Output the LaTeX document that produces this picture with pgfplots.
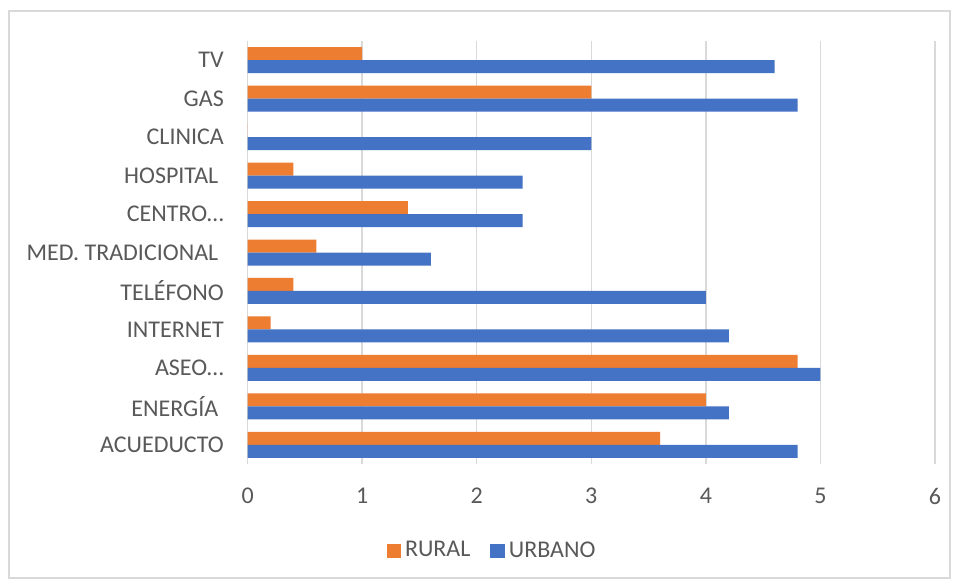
\documentclass[border=0pt]{standalone}
\usepackage{pgfplots}
\pgfplotsset{compat=1.18}
\usepackage{fontspec}
\setmainfont{Carlito}
\definecolor{cOrange}{HTML}{ED7D31}
\definecolor{cBlue}{HTML}{4472C4}
\definecolor{cText}{HTML}{595959}
\definecolor{cGrid}{HTML}{D9D9D9}
\newcommand{\tsp}{\kern0.23em}
\begin{document}
\begin{tikzpicture}
\fill[white] (0,0) rectangle (478pt,292pt);
\draw[cGrid, line width=0.75pt] (4.5pt,3pt) rectangle (475pt,286.5pt);
\begin{axis}[
  at={(123.8pt,60pt)}, anchor=south west,
  scale only axis, width=343.7pt, height=211.5pt,
  xbar, bar width=6.5pt,
  xmin=0, xmax=6, ymin=-0.5, ymax=10.5,
  xtick={0,1,2,3,4,5,6},
  ytick={0,1,2,3,4,5,6,7,8,9,10},
  yticklabels={ACUEDUCTO,{ENERGÍA\tsp},{ASEO…},INTERNET,TELÉFONO,{MED. TRADICIONAL\tsp},{CENTRO…},{HOSPITAL\tsp},CLINICA,GAS,TV},
  xmajorgrids, grid style={cGrid, line width=0.75pt},
  axis line style={draw=none},
  tick style={draw=none},
  /pgf/number format/assume math mode=true,
  tick label style={font=\fontsize{12}{14}\selectfont, text=cText},
  yticklabel style={xshift=-4.1pt},
  xticklabel style={yshift=-8.5pt},
  legend style={at={(0.357,-0.205)}, anchor=center, draw=none, fill=none,
    font=\fontsize{12}{14}\selectfont, text=cText, legend columns=2,
    /tikz/every even column/.append style={column sep=8pt}},
  legend image code/.code={\fill[#1] (0pt,-3.6pt) rectangle (7.2pt,3.6pt);},
]
\addplot[fill=cOrange, draw=none, bar shift=3.25pt] coordinates {
 (3.6,0) (4.0,1) (4.8,2) (0.2,3) (0.4,4) (0.6,5) (1.4,6) (0.4,7) (0,8) (3.0,9) (1.0,10)};
\addlegendentry{RURAL}
\addplot[fill=cBlue, draw=none, bar shift=-3.25pt] coordinates {
 (4.8,0) (4.2,1) (5.0,2) (4.2,3) (4.0,4) (1.6,5) (2.4,6) (2.4,7) (3.0,8) (4.8,9) (4.6,10)};
\addlegendentry{URBANO}
\end{axis}
\end{tikzpicture}
\end{document}
